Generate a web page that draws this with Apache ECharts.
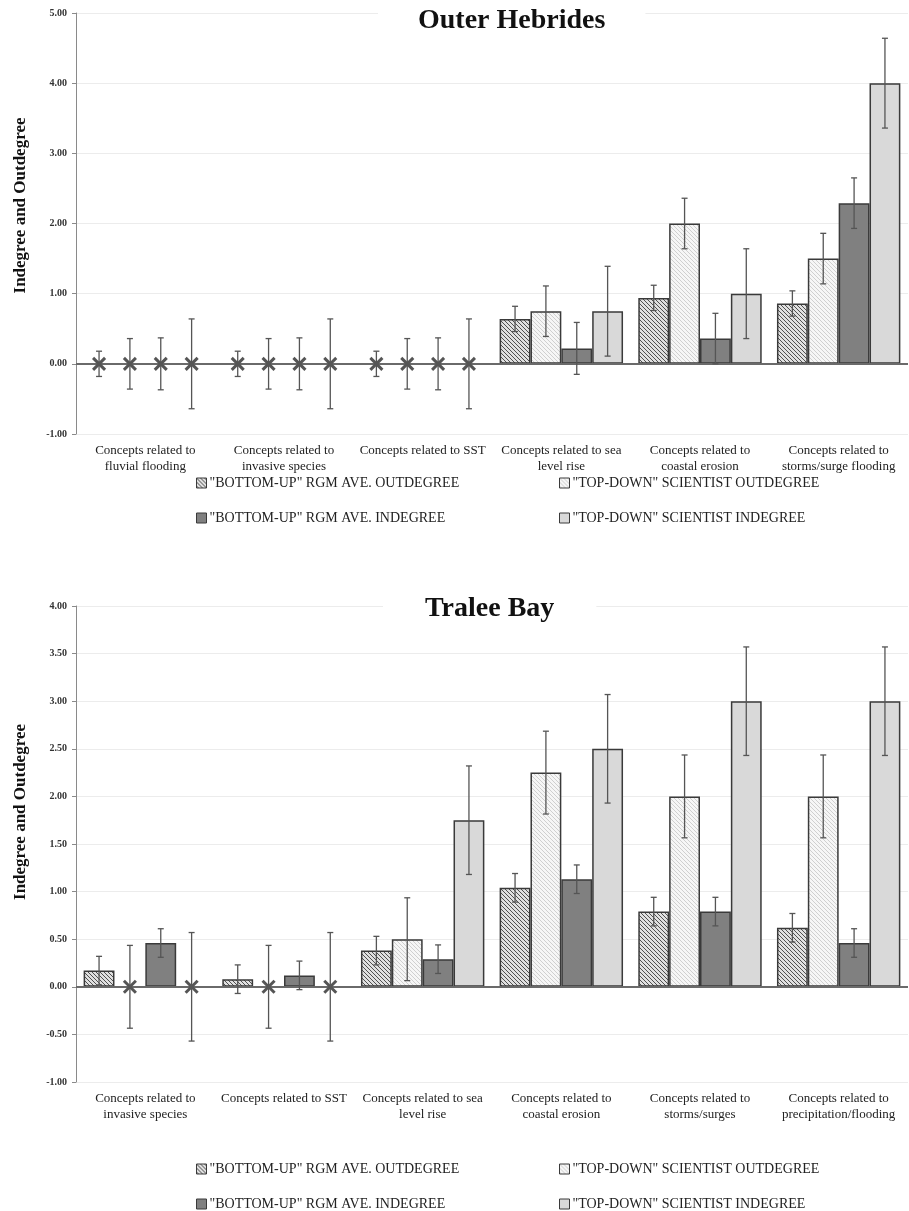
<!DOCTYPE html>
<html>
<head>
<meta charset="utf-8">
<script src="https://cdn.jsdelivr.net/npm/echarts@6/dist/echarts.min.js"></script>
<style>
  html, body { margin: 0; padding: 0; background: #fff; }
  #chart { width: 909px; height: 1211px; }
</style>
</head>
<body>
<div id="chart"></div>
<script>
// ---- Outer Hebrides ----
const ohCategories = [
  'Concepts related to\nfluvial flooding',
  'Concepts related to\ninvasive species',
  'Concepts related to SST',
  'Concepts related to sea\nlevel rise',
  'Concepts related to\ncoastal erosion',
  'Concepts related to\nstorms/surge flooding'
];
const ohBottomUpOut    = [0, 0, 0, 0.64, 0.94, 0.86];
const ohBottomUpOutErr = [0.18, 0.18, 0.18, 0.18, 0.18, 0.18];
const ohTopDownOut     = [0, 0, 0, 0.75, 2.00, 1.50];
const ohTopDownOutErr  = [0.36, 0.36, 0.36, 0.36, 0.36, 0.36];
const ohBottomUpIn     = [0, 0, 0, 0.22, 0.36, 2.29];
const ohBottomUpInErr  = [0.37, 0.37, 0.37, 0.37, 0.36, 0.36];
const ohTopDownIn      = [0, 0, 0, 0.75, 1.00, 4.00];
const ohTopDownInErr   = [0.64, 0.64, 0.64, 0.64, 0.64, 0.64];

// ---- Tralee Bay ----
const tbCategories = [
  'Concepts related to\ninvasive species',
  'Concepts related to SST',
  'Concepts related to sea\nlevel rise',
  'Concepts related to\ncoastal erosion',
  'Concepts related to\nstorms/surges',
  'Concepts related to\nprecipitation/flooding'
];
const tbBottomUpOut    = [0.17, 0.08, 0.38, 1.04, 0.79, 0.62];
const tbBottomUpOutErr = [0.15, 0.15, 0.15, 0.15, 0.15, 0.15];
const tbTopDownOut     = [0, 0, 0.50, 2.25, 2.00, 2.00];
const tbTopDownOutErr  = [0.435, 0.435, 0.435, 0.435, 0.435, 0.435];
const tbBottomUpIn     = [0.46, 0.12, 0.29, 1.13, 0.79, 0.46];
const tbBottomUpInErr  = [0.15, 0.15, 0.15, 0.15, 0.15, 0.15];
const tbTopDownIn      = [0, 0, 1.75, 2.50, 3.00, 3.00];
const tbTopDownInErr   = [0.57, 0.57, 0.57, 0.57, 0.57, 0.57];

const seriesNames = [
  '"BOTTOM-UP" RGM AVE. OUTDEGREE',
  '"TOP-DOWN" SCIENTIST OUTDEGREE',
  '"BOTTOM-UP" RGM AVE. INDEGREE',
  '"TOP-DOWN" SCIENTIST INDEGREE'
];

// diagonal hatch fill ("\" direction)
function hatch(bg, line, step) {
  const c = document.createElement('canvas');
  c.width = c.height = step;
  const g = c.getContext('2d');
  g.fillStyle = bg;
  g.fillRect(0, 0, step, step);
  g.strokeStyle = line;
  g.lineWidth = 1;
  g.beginPath();
  g.moveTo(-1, -1); g.lineTo(step + 1, step + 1);
  g.moveTo(-2, step - 2); g.lineTo(2, step + 2);
  g.moveTo(step - 2, -2); g.lineTo(step + 2, 2);
  g.stroke();
  return { image: c, repeat: 'repeat' };
}

const fills = [
  hatch('#e0e0e0', '#505050', 4),
  hatch('#f6f6f6', '#cfcfcf', 4),
  '#808080',
  '#d9d9d9'
];

const SERIF = 'Liberation Serif';
const CAT_GAP = 0.11;

function barSeries(g, k, values) {
  const s = {
    type: 'bar',
    name: seriesNames[k],
    xAxisIndex: g,
    yAxisIndex: g,
    data: values,
    barGap: '0%',
    barCategoryGap: (CAT_GAP * 100) + '%',
    itemStyle: { color: fills[k], borderColor: '#3a3a3a', borderWidth: 1.5 },
    emphasis: { disabled: true },
    z: 2
  };
  if (k === 0) {
    s.markLine = {
      silent: true,
      symbol: 'none',
      label: { show: false },
      lineStyle: { color: '#6a6a6a', width: 1.8, type: 'solid' },
      data: [{ yAxis: 0 }]
    };
  }
  return s;
}

// error bars; a zero-valued item is marked with an X
function errorSeries(g, k, values, errs) {
  return {
    type: 'custom',
    xAxisIndex: g,
    yAxisIndex: g,
    silent: true,
    z: 6,
    data: values.map((v, i) => [i, v, errs[i]]),
    encode: { x: 0, y: 1 },
    renderItem: function (params, api) {
      const i = api.value(0), v = api.value(1), e = api.value(2);
      const band = api.size([1, 0])[0];
      const groupW = band * (1 - CAT_GAP);
      const bw = groupW / 4;
      const cx = api.coord([i, v])[0] - groupW / 2 + bw * (k + 0.5);
      const yTop = api.coord([i, v + e])[1];
      const yBot = api.coord([i, v - e])[1];
      const y0 = api.coord([i, v])[1];
      const st = { stroke: '#555', lineWidth: 1.3 };
      const cap = 3;
      const children = [
        { type: 'line', shape: { x1: cx, y1: yTop, x2: cx, y2: yBot }, style: st },
        { type: 'line', shape: { x1: cx - cap, y1: yTop, x2: cx + cap, y2: yTop }, style: st },
        { type: 'line', shape: { x1: cx - cap, y1: yBot, x2: cx + cap, y2: yBot }, style: st }
      ];
      if (v === 0) {
        const h = 6;
        const xs = { stroke: '#555', lineWidth: 3 };
        children.push(
          { type: 'line', shape: { x1: cx - h, y1: y0 - h, x2: cx + h, y2: y0 + h }, style: xs },
          { type: 'line', shape: { x1: cx - h, y1: y0 + h, x2: cx + h, y2: y0 - h }, style: xs }
        );
      }
      return { type: 'group', children: children };
    }
  };
}

function xAxis(g, cats) {
  return {
    type: 'category',
    gridIndex: g,
    data: cats,
    axisLine: { show: false, onZero: false },
    axisTick: { show: false },
    axisLabel: {
      interval: 0,
      margin: 9,
      fontFamily: SERIF,
      fontSize: 13,
      lineHeight: 16,
      color: '#222'
    }
  };
}

function yAxis(g, min, max, interval, shift) {
  return {
    type: 'value',
    gridIndex: g,
    min: min,
    max: max,
    interval: interval,
    name: 'Indegree and Outdegree',
    nameLocation: 'middle',
    nameGap: 47,
    nameTextStyle: {
      fontFamily: SERIF,
      fontWeight: 'bold',
      fontSize: 17,
      color: '#111',
      padding: [0, 0, 0, shift]
    },
    axisLine: { show: true, lineStyle: { color: '#8a8a8a', width: 1 } },
    axisTick: { show: true, length: 4, lineStyle: { color: '#8a8a8a' } },
    axisLabel: {
      margin: 9,
      fontFamily: SERIF,
      fontWeight: 'bold',
      fontSize: 10,
      color: '#333',
      formatter: v => v.toFixed(2)
    },
    splitLine: { show: true, lineStyle: { color: '#ececec', width: 1 } }
  };
}

function legendItem(name, left, top) {
  return {
    data: [name],
    left: left,
    top: top,
    itemWidth: 10,
    itemHeight: 10,
    itemGap: 0,
    icon: 'rect',
    selectedMode: false,
    itemStyle: { borderWidth: 1 },
    textStyle: { fontFamily: SERIF, fontSize: 14, color: '#222', padding: [0, 0, 0, -2] }
  };
}

const titleStyle = { fontFamily: SERIF, fontWeight: 'bold', fontSize: 28, color: '#111' };

const option = {
  backgroundColor: '#fff',
  animation: false,
  title: [
    { text: 'Outer Hebrides', left: 378, top: 1, padding: [6, 40, 8, 40], backgroundColor: '#fff', textStyle: titleStyle },
    { text: 'Tralee Bay', left: 383, top: 589, padding: [6, 42, 8, 42], backgroundColor: '#fff', textStyle: titleStyle }
  ],
  grid: [
    { left: 76, right: 1, top: 13, height: 421 },
    { left: 76, right: 1, top: 606, height: 476 }
  ],
  xAxis: [xAxis(0, ohCategories), xAxis(1, tbCategories)],
  yAxis: [yAxis(0, -1, 5, 1, 36), yAxis(1, -1, 4, 0.5, 64)],
  legend: [
    legendItem(seriesNames[0], 191, 471),
    legendItem(seriesNames[1], 554, 471),
    legendItem(seriesNames[2], 191, 506),
    legendItem(seriesNames[3], 554, 506),
    legendItem(seriesNames[0], 191, 1157),
    legendItem(seriesNames[1], 554, 1157),
    legendItem(seriesNames[2], 191, 1192),
    legendItem(seriesNames[3], 554, 1192)
  ],
  series: [
    barSeries(0, 0, ohBottomUpOut),
    barSeries(0, 1, ohTopDownOut),
    barSeries(0, 2, ohBottomUpIn),
    barSeries(0, 3, ohTopDownIn),
    errorSeries(0, 0, ohBottomUpOut, ohBottomUpOutErr),
    errorSeries(0, 1, ohTopDownOut, ohTopDownOutErr),
    errorSeries(0, 2, ohBottomUpIn, ohBottomUpInErr),
    errorSeries(0, 3, ohTopDownIn, ohTopDownInErr),
    barSeries(1, 0, tbBottomUpOut),
    barSeries(1, 1, tbTopDownOut),
    barSeries(1, 2, tbBottomUpIn),
    barSeries(1, 3, tbTopDownIn),
    errorSeries(1, 0, tbBottomUpOut, tbBottomUpOutErr),
    errorSeries(1, 1, tbTopDownOut, tbTopDownOutErr),
    errorSeries(1, 2, tbBottomUpIn, tbBottomUpInErr),
    errorSeries(1, 3, tbTopDownIn, tbTopDownInErr)
  ]
};

const chart = echarts.init(document.getElementById('chart'), null, { renderer: 'canvas' });
chart.setOption(option);
</script>
</body>
</html>
